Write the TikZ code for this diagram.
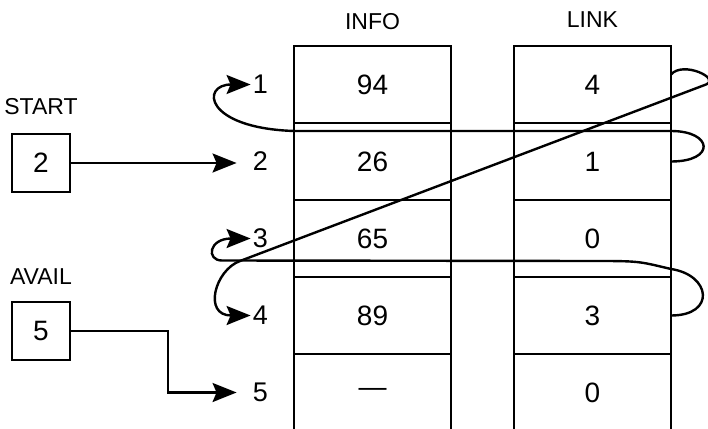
\documentclass[tikz,border=0pt]{standalone}
\usepackage{fontspec}
\setmainfont{Liberation Sans}
\usetikzlibrary{positioning,calc,arrows.meta}
\tikzstyle{cell} = [draw, rectangle, line width=2.6pt, outer sep=0pt,
    minimum width=157pt, minimum height=77pt,
    font=\fontsize{28}{32}\selectfont]
\tikzstyle{ptrbox} = [draw, rectangle, line width=2.6pt,
    minimum size=58pt, font=\fontsize{28}{32}\selectfont]
\tikzstyle{idx} = [inner sep=1pt, font=\fontsize{27}{30}\selectfont]
\tikzstyle{title} = [inner sep=0pt, font=\fontsize{23}{27}\selectfont]

\begin{document}
\begin{tikzpicture}[x=1pt, y=-1pt, line width=2.4pt,
    >={Stealth[length=24pt,width=19pt,inset=4pt]}]
\useasboundingbox (0,0) rectangle (708,428);

% INFO column
\node (info1) [cell] at (372.5,84.5) {94};
\node (info2) [cell,below=0pt of info1] {26};
\node (info3) [cell,below=0pt of info2] {65};
\node (info4) [cell,below=0pt of info3] {89};
\node (info5) [cell,below=0pt of info4] {---};

% LINK column
\node (link1) [cell,right=63pt of info1] {4};
\node (link2) [cell,below=0pt of link1] {1};
\node (link3) [cell,below=0pt of link2] {0};
\node (link4) [cell,below=0pt of link3] {3};
\node (link5) [cell,below=0pt of link4] {0};

\node (infotitle) [title,above=15pt of info1] {INFO};
\node (linktitle) [title,above=17pt of link1] {LINK};

\node (idx1) [idx,left=24pt of info1] {1};
\node (idx2) [idx,left=24pt of info2] {2};
\node (idx3) [idx,left=24pt of info3] {3};
\node (idx4) [idx,left=24pt of info4] {4};
\node (idx5) [idx,left=24pt of info5] {5};

% pointers
\node (start) [ptrbox] at (41,163) {2};
\node (startlbl) [title,above=17pt of start] {START};
\node (avail) [ptrbox] at (41,331) {5};
\node (availlbl) [title,above=15pt of avail] {AVAIL};

\draw[->,shorten >=14pt] (start.east) -- (start.east -| idx2.west);
\draw[->,shorten >=14pt] (avail.east) -| ($(avail.east)!.54!(idx5.west)$) |- (idx5.west);

% 2 -> 1
\coordinate (row1_back) at ([yshift=-8pt]info2.north west);
\draw[->] (link2.east) .. controls +(45,0) and +(42,0) .. ([yshift=-8pt]link2.north east)
  -- (row1_back) .. controls +(-90,-3) and +(-50,0) .. (idx1.west);

% 1 -> 4
\coordinate (row1_turn) at ([xshift=35pt]link1.east);
\coordinate (row4_back) at (240,261);
\draw[->] ([yshift=10pt]link1.east) .. controls +(12,-14) and +(15,-6) .. (row1_turn)
  -- (row4_back) .. controls +(-25,9) and +(-48,0) .. (idx4.west);

% 4 -> 3
\coordinate (row3_back) at (222,260.5);
\draw[->] (link4.east) .. controls +(45,0) and +(40,6) .. ([yshift=8pt]link4.north east)
  .. controls +(-30,-7) and +(40,0) .. ([xshift=-70pt,yshift=16pt]link4.north east)
  -- (row3_back) .. controls +(-16,0) and +(-42,0) .. (idx3.west);

\end{tikzpicture}
\end{document}
